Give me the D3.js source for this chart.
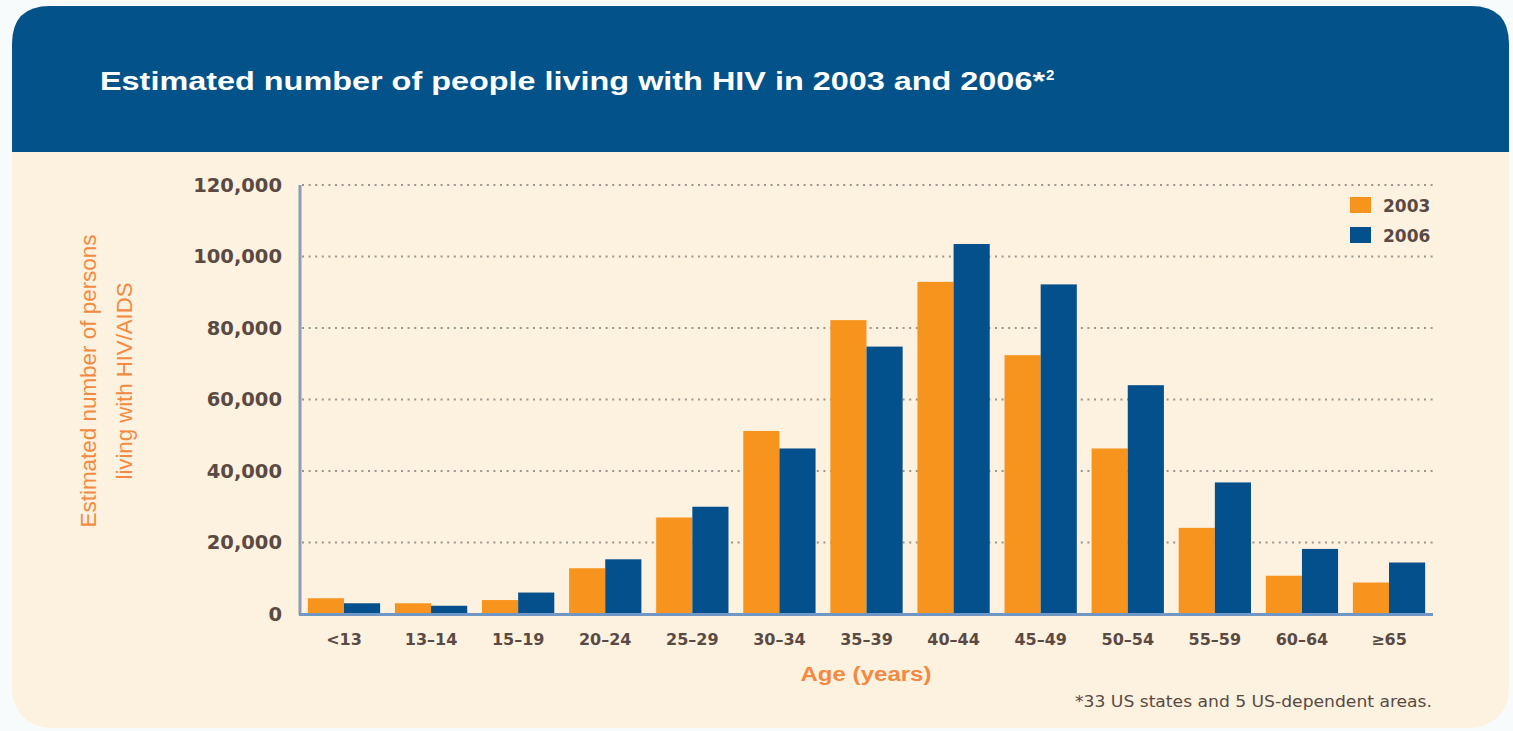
<!DOCTYPE html>
<html>
<head>
<meta charset="utf-8">
<script src="https://cdn.jsdelivr.net/npm/d3@7"></script>
<style>
  html, body { margin: 0; padding: 0; background: #f8fbfb; }
  svg { display: block; }
</style>
</head>
<body>
<svg id="chart" width="1513" height="731"></svg>
<script>
// Age groups and estimated persons living with HIV/AIDS
const categories = ["<13", "13–14", "15–19", "20–24", "25–29", "30–34", "35–39",
                    "40–44", "45–49", "50–54", "55–59", "60–64", "≥65"];
const values2003 = [4400, 3000, 3900, 12800, 27000, 51200, 82200, 92900, 72400, 46300, 24100, 10700, 8800];
const values2006 = [3000, 2300, 6000, 15300, 30000, 46300, 74800, 103500, 92200, 64000, 36800, 18200, 14400];
const seriesNames = ["2003", "2006"];
const yTicks = [0, 20000, 40000, 60000, 80000, 100000, 120000];

const colors = { "2003": "#f7941e", "2006": "#03508c" };
const BG = "#fdf1df", HEADER = "#03528a", TEXT = "#5a4a43", ORANGE = "#f28a42";

const svg = d3.select("#chart");

// Card background with rounded corners
const card = { x: 12, y: 6, w: 1497, h: 722, r: 38 };
svg.append("rect")
  .attr("x", card.x).attr("y", card.y).attr("width", card.w).attr("height", card.h)
  .attr("rx", card.r).attr("ry", card.r).attr("fill", BG);

// Header band: rounded top corners, square bottom
const hb = 152;
const r = card.r;
svg.append("path")
  .attr("d", `M${card.x},${hb} L${card.x},${card.y + r} Q${card.x},${card.y} ${card.x + r},${card.y}
              L${card.x + card.w - r},${card.y} Q${card.x + card.w},${card.y} ${card.x + card.w},${card.y + r}
              L${card.x + card.w},${hb} Z`)
  .attr("fill", HEADER);

function fitText(sel, width) {
  sel.attr("textLength", width).attr("lengthAdjust", "spacingAndGlyphs");
}

// Title with superscript reference mark
svg.append("text")
  .attr("x", 100).attr("y", 90)
  .attr("fill", "#ffffff")
  .style("font-family", "'Liberation Sans', Arial, sans-serif")
  .style("font-weight", "bold")
  .style("font-size", "26.5px")
  .text("Estimated number of people living with HIV in 2003 and 2006*")
  .call(fitText, 945);

svg.append("text")
  .attr("x", 1046).attr("y", 80)
  .attr("fill", "#ffffff")
  .style("font-family", "'Liberation Sans', Arial, sans-serif")
  .style("font-weight", "bold")
  .style("font-size", "15px")
  .text("2");

// Scales
const plot = { left: 300, right: 1433, top: 185, bottom: 614 };
const y = d3.scaleLinear().domain([0, 120000]).range([plot.bottom, plot.top]);
const x0 = d3.scaleBand().domain(categories).range([plot.left, plot.right])
  .paddingInner(0.17).paddingOuter(0.09);
const x1 = d3.scaleBand().domain(seriesNames).range([0, x0.bandwidth()]).padding(0);

// Dotted gridlines
svg.append("g")
  .selectAll("line")
  .data(yTicks.filter(d => d > 0))
  .join("line")
  .attr("x1", plot.left + 2).attr("x2", plot.right + 2)
  .attr("y1", d => y(d)).attr("y2", d => y(d))
  .attr("stroke", "#9c958d")
  .attr("stroke-width", 2)
  .attr("stroke-dasharray", "2,4.6");

// Bars
const rows = categories.map((c, i) => ({ cat: c, vals: [
  { key: "2003", value: values2003[i] },
  { key: "2006", value: values2006[i] }
]}));

svg.append("g")
  .selectAll("g")
  .data(rows)
  .join("g")
  .attr("transform", d => `translate(${x0(d.cat)},0)`)
  .selectAll("rect")
  .data(d => d.vals)
  .join("rect")
  .attr("x", d => x1(d.key))
  .attr("width", x1.bandwidth())
  .attr("y", d => y(d.value))
  .attr("height", d => y(0) - y(d.value))
  .attr("fill", d => colors[d.key]);

// Y axis
const yAxis = svg.append("g")
  .attr("transform", `translate(${plot.left},0)`)
  .call(d3.axisLeft(y).tickValues(yTicks).tickFormat(d3.format(",")).tickSize(0).tickPadding(18));
yAxis.select(".domain").remove();
yAxis.selectAll("text")
  .attr("fill", TEXT)
  .style("font-family", "'DejaVu Sans', sans-serif")
  .style("font-weight", "bold")
  .style("font-size", "19.5px");

svg.append("line")
  .attr("x1", plot.left).attr("x2", plot.left)
  .attr("y1", plot.top).attr("y2", plot.bottom + 1)
  .attr("stroke", "#8d9cb6").attr("stroke-width", 3);

// X axis
const xAxis = svg.append("g")
  .attr("transform", `translate(0,${plot.bottom})`)
  .call(d3.axisBottom(x0).tickSize(0).tickPadding(20));
xAxis.select(".domain").remove();
xAxis.selectAll("text")
  .attr("fill", TEXT)
  .style("font-family", "'DejaVu Sans', sans-serif")
  .style("font-weight", "bold")
  .style("font-size", "16px");

svg.append("line")
  .attr("x1", plot.left - 1).attr("x2", plot.right)
  .attr("y1", plot.bottom + 0.5).attr("y2", plot.bottom + 0.5)
  .attr("stroke", "#7197c6").attr("stroke-width", 3);

// Axis titles
const yTitle = svg.append("text")
  .attr("transform", "translate(0,381) rotate(-90)")
  .attr("text-anchor", "middle")
  .attr("fill", ORANGE)
  .style("font-family", "'Liberation Sans Narrow', 'Liberation Sans', sans-serif")
  .style("font-size", "22px");
yTitle.append("tspan").attr("x", 0).attr("y", 96).text("Estimated number of persons").call(fitText, 293);
yTitle.append("tspan").attr("x", 0).attr("y", 132).text("living with HIV/AIDS").call(fitText, 197);

svg.append("text")
  .attr("x", 866).attr("y", 681)
  .attr("text-anchor", "middle")
  .attr("fill", ORANGE)
  .style("font-family", "'Liberation Sans', Arial, sans-serif")
  .style("font-weight", "bold")
  .style("font-size", "20px")
  .text("Age (years)")
  .call(fitText, 131);

// Legend
const legend = svg.append("g")
  .selectAll("g")
  .data(seriesNames)
  .join("g")
  .attr("transform", (d, i) => `translate(1350,${197 + i * 30})`);
legend.append("rect")
  .attr("width", 21).attr("height", 16)
  .attr("fill", d => colors[d]);
legend.append("text")
  .attr("x", 33).attr("y", 15)
  .attr("fill", TEXT)
  .style("font-family", "'DejaVu Sans', sans-serif")
  .style("font-weight", "bold")
  .style("font-size", "17px")
  .text(d => d);

// Footnote
svg.append("text")
  .attr("x", 1432).attr("y", 707)
  .attr("text-anchor", "end")
  .attr("fill", TEXT)
  .style("font-family", "'DejaVu Sans Condensed', 'DejaVu Sans', sans-serif")
  .style("font-size", "15.5px")
  .text("*33 US states and 5 US-dependent areas.")
  .call(fitText, 357);
</script>
</body>
</html>
